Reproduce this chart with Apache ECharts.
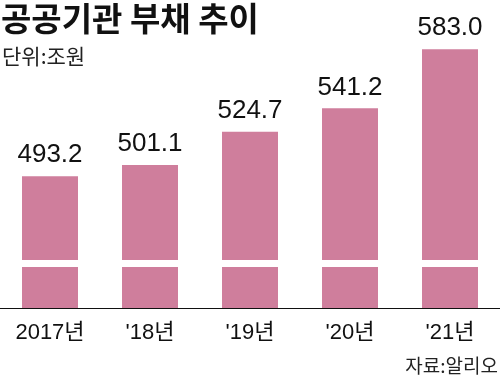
<!DOCTYPE html>
<html><head><meta charset="utf-8">
<script src="https://cdn.jsdelivr.net/npm/echarts@6/dist/echarts.min.js"></script>
<style>html,body{margin:0;padding:0;background:#fff}#c{width:500px;height:379px}</style>
</head><body><div id="c"></div>
<script>
const categories = ['2017년', "'18년", "'19년", "'20년", "'21년"];
const debt = [493.2, 501.1, 524.7, 541.2, 583.0];
const breakValue = 431.5;
const numFont = '"Liberation Sans",Arial,"Noto Sans CJK KR",sans-serif';
const krFont = '"Noto Sans CJK KR","Liberation Sans",sans-serif';
const chart = echarts.init(document.getElementById('c'));
chart.setOption({
  animation: false,
  backgroundColor: '#fff',
  title: [
    {text: '공공기관 부채 추이', left: 1, top: 2, padding: 0, textStyle: {fontFamily: krFont, fontSize: 33, fontWeight: 'bold', color: '#111'}},
    {text: '단위:조원', left: 2, top: 46, padding: 0, textStyle: {fontFamily: krFont, fontSize: 21, fontWeight: 'normal', color: '#222'}},
    {text: '자료:알리오', right: 2, bottom: 4, padding: 0, textStyle: {fontFamily: krFont, fontSize: 19, fontWeight: 'normal', color: '#222'}}
  ],
  grid: {left: 0, right: 0, top: 25.2, bottom: 71, containLabel: false},
  xAxis: {
    type: 'category', data: categories,
    axisLine: {lineStyle: {color: '#111', width: 1}},
    axisTick: {show: false},
    axisLabel: {interval: 0, fontFamily: numFont, fontSize: 22, color: '#111', margin: 14}
  },
  yAxis: {type: 'value', min: 400, max: 600, show: false, splitLine: {show: false}},
  series: [{
    type: 'bar', data: debt, barWidth: 56,
    itemStyle: {color: '#CF7E9C'},
    label: {show: true, position: 'top', distance: 8, fontFamily: numFont, fontSize: 26, color: '#111',
      formatter: p => p.value.toFixed(1)},
    markLine: {
      silent: true, symbol: 'none', label: {show: false},
      lineStyle: {color: '#fff', width: 7, type: 'solid'},
      data: [{yAxis: breakValue}]
    }
  }]
});
</script></body></html>
